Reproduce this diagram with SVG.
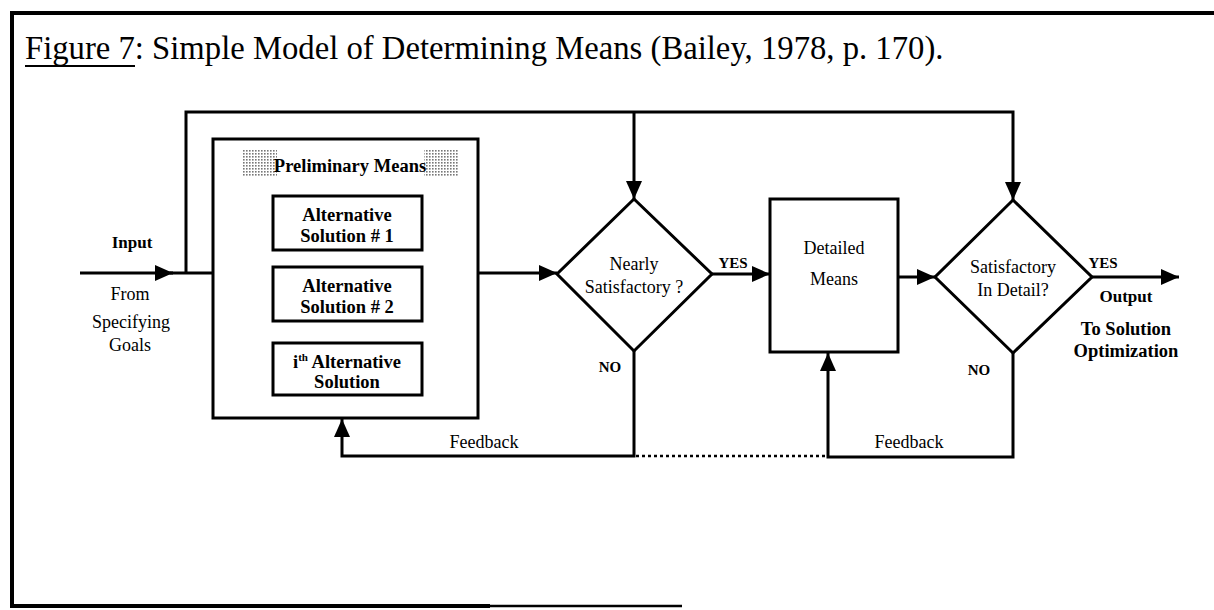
<svg xmlns="http://www.w3.org/2000/svg" width="1214" height="610" viewBox="0 0 1214 610">
  <style>
    text { font-family: "Liberation Serif", "Times New Roman", serif; fill: #000; }
    .title { font-size: 32.7px; }
    .lbl { font-size: 18px; text-anchor: middle; }
    .lblb { font-size: 17px; font-weight: bold; text-anchor: middle; }
    .alt { font-size: 18.5px; font-weight: bold; text-anchor: middle; }
    .yn { font-size: 15px; font-weight: bold; text-anchor: middle; }
    .node { fill: #fff; stroke: #000; stroke-width: 3; }
    .frame { fill: none; stroke: #000; stroke-width: 4; }
    .conn { fill: none; stroke: #000; stroke-width: 3; }
    .dots { fill: none; stroke: #000; stroke-width: 2.5; stroke-dasharray: 3 3; }
  </style>
  <defs>
    <marker id="arr" markerWidth="18" markerHeight="16" refX="18" refY="8" orient="auto" markerUnits="userSpaceOnUse">
      <path d="M0,0 L18,8 L0,16 z" fill="#000"/>
    </marker>
    <pattern id="screen" width="3" height="3" patternUnits="userSpaceOnUse">
      <rect width="1.6" height="1.6" fill="#777"/>
    </pattern>
  </defs>

  <!-- page frame and caption -->
  <g id="frame">
    <line class="frame" x1="10" y1="13" x2="1214" y2="13"/>
    <line class="frame" x1="12" y1="11" x2="12" y2="608"/>
    <line class="frame" x1="10" y1="606" x2="490" y2="606"/>
    <line x1="490" y1="606" x2="682" y2="606" stroke="#000" stroke-width="2.5"/>
    <text class="title" x="25" y="59">Figure 7: Simple Model of Determining Means (Bailey, 1978, p. 170).</text>
    <line x1="25" y1="66" x2="135" y2="66" stroke="#000" stroke-width="1.8"/>
  </g>

  <!-- connectors -->
  <g id="connectors">
    <path class="conn" d="M80,273 H173" marker-end="url(#arr)"/>
    <path class="conn" d="M170,273 H213"/>
    <path class="conn" d="M186,273 V112 H1013 V200" marker-end="url(#arr)"/>
    <path class="conn" d="M634,112 V199" marker-end="url(#arr)"/>
    <path class="conn" d="M478,273 H557" marker-end="url(#arr)"/>
    <path class="conn" d="M712,274 H770" marker-end="url(#arr)"/>
    <path class="conn" d="M898,277 H935" marker-end="url(#arr)"/>
    <path class="conn" d="M1092,277 H1179" marker-end="url(#arr)"/>
    <path class="conn" d="M634,351 V456 H342 V419" marker-end="url(#arr)"/>
    <path class="dots" d="M636,456 H827"/>
    <path class="conn" d="M1013,353 V457 H828 V353" marker-end="url(#arr)"/>
  </g>

  <!-- edge labels -->
  <g id="labels">
    <text class="lblb" x="132" y="248">Input</text>
    <text class="lbl" x="130" y="300">From</text>
    <text class="lbl" x="131" y="328">Specifying</text>
    <text class="lbl" x="130" y="351">Goals</text>
    <text class="yn" x="733" y="268">YES</text>
    <text class="yn" x="610" y="372">NO</text>
    <text class="yn" x="1103" y="268">YES</text>
    <text class="yn" x="979" y="375">NO</text>
    <text class="lblb" x="1126" y="302">Output</text>
    <text class="alt" x="1126" y="335">To Solution</text>
    <text class="alt" x="1126" y="357">Optimization</text>
    <text class="lbl" x="484" y="448" font-size="18.5">Feedback</text>
    <text class="lbl" x="909" y="448" font-size="18.5">Feedback</text>
  </g>

  <!-- preliminary means container -->
  <g id="preliminary-means">
    <rect class="node" x="213" y="139" width="265" height="279" stroke-width="4.5"/>
    <rect x="243" y="150" width="34" height="27" fill="url(#screen)"/>
    <rect x="424" y="150" width="34" height="27" fill="url(#screen)"/>
    <text class="alt" x="350" y="172" font-size="18">Preliminary Means</text>
  </g>

  <g id="alt-solution-1">
    <rect class="node" x="273" y="196" width="149" height="54"/>
    <text class="alt" x="347" y="221">Alternative</text>
    <text class="alt" x="347" y="242">Solution # 1</text>
  </g>

  <g id="alt-solution-2">
    <rect class="node" x="273" y="267" width="149" height="54"/>
    <text class="alt" x="347" y="292">Alternative</text>
    <text class="alt" x="347" y="313">Solution # 2</text>
  </g>

  <g id="alt-solution-i">
    <rect class="node" x="273" y="343" width="149" height="52"/>
    <text class="alt" x="347" y="368">i<tspan font-size="11" dy="-7">th</tspan><tspan dy="7"> Alternative</tspan></text>
    <text class="alt" x="347" y="388">Solution</text>
  </g>

  <g id="nearly-satisfactory">
    <polygon class="node" points="634,199 712,274 634,351 557,274"/>
    <text class="lbl" x="634" y="270" font-size="19">Nearly</text>
    <text class="lbl" x="634" y="293" font-size="19">Satisfactory ?</text>
  </g>

  <g id="detailed-means">
    <rect class="node" x="770" y="199" width="128" height="153"/>
    <text class="lbl" x="834" y="254" font-size="19">Detailed</text>
    <text class="lbl" x="834" y="285" font-size="19">Means</text>
  </g>

  <g id="satisfactory-in-detail">
    <polygon class="node" points="1013,200 1092,277 1013,353 935,277"/>
    <text class="lbl" x="1013" y="273" font-size="19">Satisfactory</text>
    <text class="lbl" x="1013" y="296" font-size="19">In Detail?</text>
  </g>
</svg>
